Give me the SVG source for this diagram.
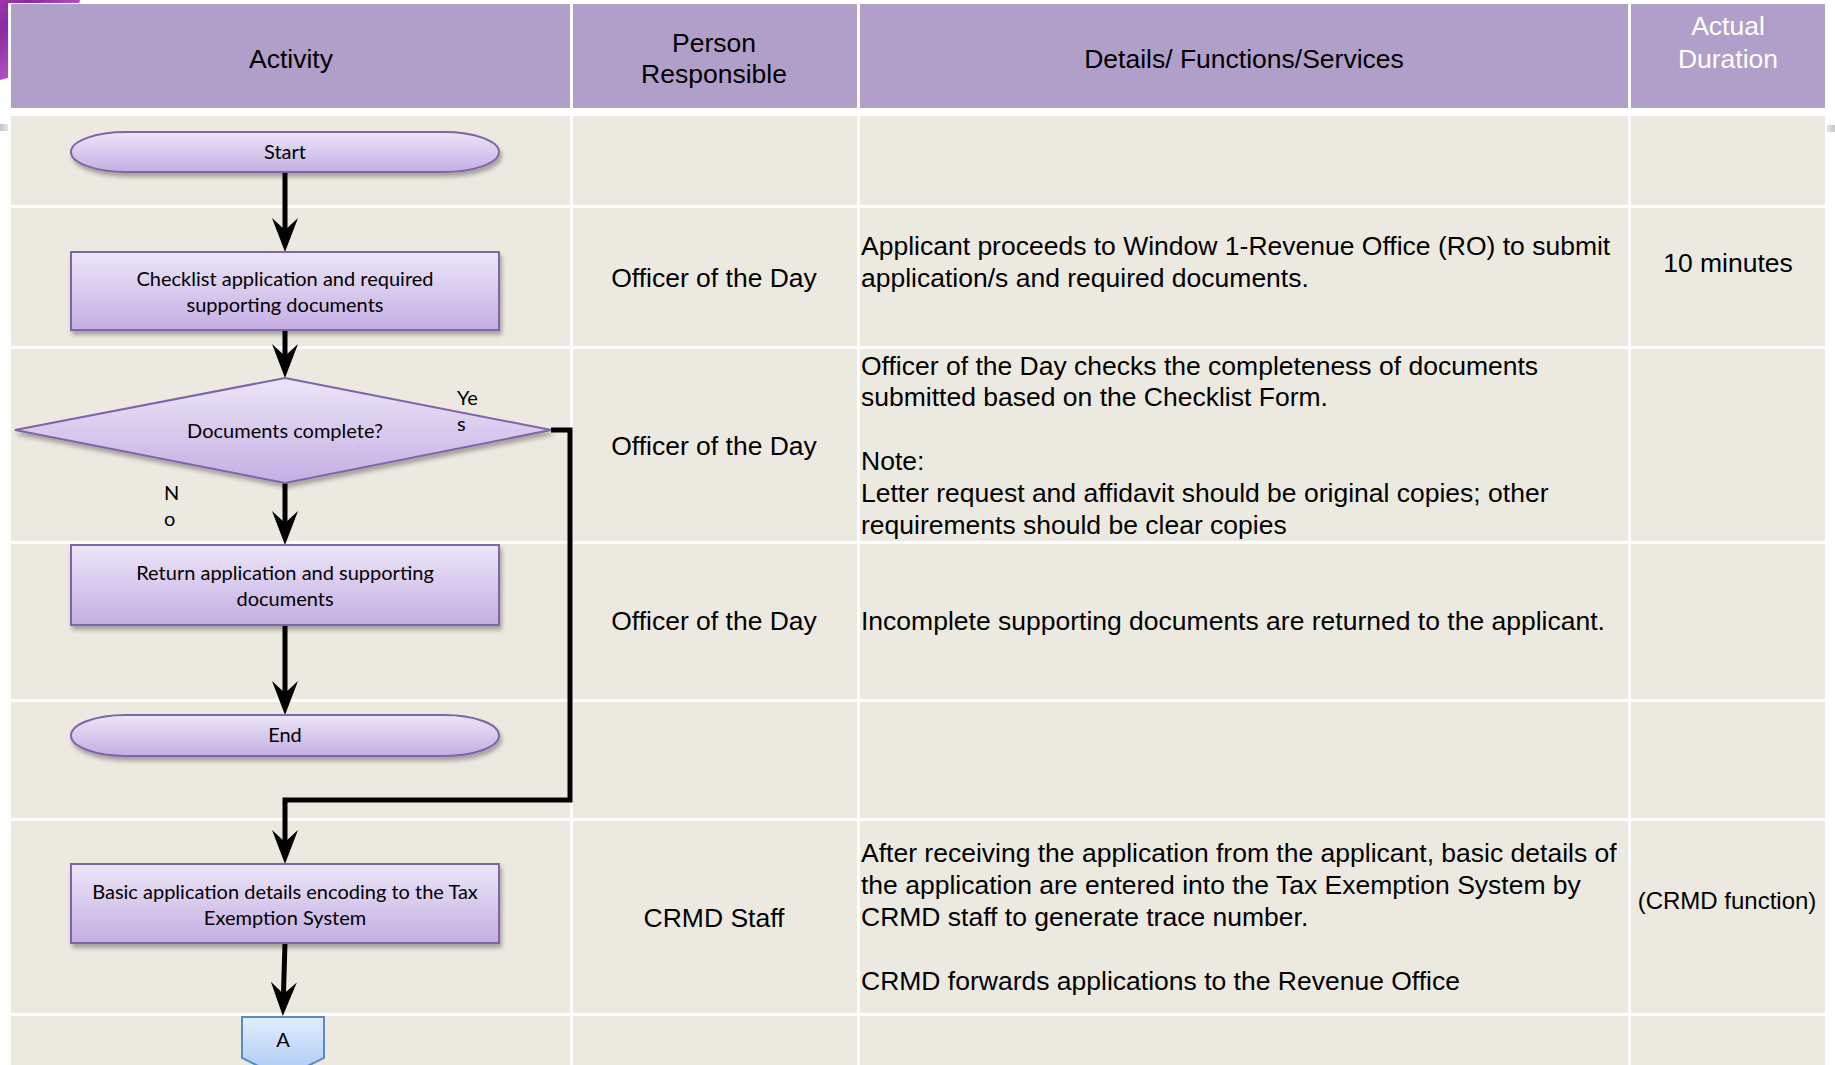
<svg xmlns="http://www.w3.org/2000/svg" width="1835" height="1065" viewBox="0 0 1835 1065">
  <style>
    .hdr { fill: #B09FC8; }
    .cell { fill: #ECEAE0; }
    .th { font-family: "Liberation Sans", Arial, sans-serif; font-size: 26.5px; fill: #000; text-anchor: middle; }
    .th.light { fill: #FFFFFF; }
    .td { font-family: "Liberation Sans", Arial, sans-serif; font-size: 26.5px; fill: #000; }
    .mid { text-anchor: middle; }
    .fc { font-family: Lato, "Liberation Sans", sans-serif; font-size: 20px; fill: #000; text-anchor: middle; }
    .lbl { font-family: Lato, "Liberation Sans", sans-serif; font-size: 20px; fill: #000; }
    .shape { fill: url(#purpleFill); stroke: #8064A8; stroke-width: 2; filter: url(#shadow); }
    .conn { fill: none; stroke: #000; stroke-width: 5; marker-end: url(#arrow); }
  </style>
  <defs>
    <linearGradient id="purpleFill" x1="0" y1="0" x2="0" y2="1">
      <stop offset="0" stop-color="#ECE6F8"/>
      <stop offset="1" stop-color="#C4AEE3"/>
    </linearGradient>
    <linearGradient id="blueFill" x1="0" y1="0" x2="0" y2="1">
      <stop offset="0" stop-color="#E2EDFD"/>
      <stop offset="1" stop-color="#A8C8F4"/>
    </linearGradient>
    <radialGradient id="orb" cx="0.3" cy="0.3" r="0.8">
      <stop offset="0" stop-color="#C86AD6"/>
      <stop offset="0.7" stop-color="#8E2AA3"/>
      <stop offset="1" stop-color="#B45CC6"/>
    </radialGradient>
    <linearGradient id="greyBarL" x1="0" y1="0" x2="1" y2="0">
      <stop offset="0" stop-color="#C4C4C4"/>
      <stop offset="1" stop-color="#E4E4E4"/>
    </linearGradient>
    <linearGradient id="greyBarR" x1="0" y1="0" x2="1" y2="0">
      <stop offset="0" stop-color="#E2E2E2"/>
      <stop offset="1" stop-color="#C8C8C8"/>
    </linearGradient>
    <filter id="shadow" x="-10%" y="-20%" width="120%" height="150%">
      <feDropShadow dx="2" dy="4" stdDeviation="2" flood-color="#000" flood-opacity="0.3"/>
    </filter>
    <marker id="arrow" viewBox="0 -13 34 26" refX="14" refY="0" markerWidth="34" markerHeight="26" markerUnits="userSpaceOnUse" orient="auto">
      <path d="M0,-13 L34,0 L0,13 L12,0 Z" fill="#000"/>
    </marker>
  </defs>

  <!-- page background and slide decorations -->
  <rect x="0" y="0" width="1835" height="1065" fill="#FFFFFF"/>
  <circle cx="-25" cy="-25" r="108" fill="url(#orb)"/>
  <rect x="0" y="124" width="8" height="7" fill="url(#greyBarL)"/>
  <rect x="1827" y="125" width="8" height="7" fill="url(#greyBarR)"/>
  <rect x="8" y="3" width="1819" height="1062" fill="#FFFFFF"/>

  <!-- table: header row -->
  <g id="table-header">
    <rect class="hdr" x="11" y="4" width="559" height="104"/>
    <rect class="hdr" x="573" y="4" width="284" height="104"/>
    <rect class="hdr" x="860" y="4" width="768" height="104"/>
    <rect class="hdr" x="1631" y="4" width="194" height="104"/>
    <text class="th" x="291" y="68">Activity</text>
    <text class="th" x="714" y="52">Person</text>
    <text class="th" x="714" y="83">Responsible</text>
    <text class="th" x="1244" y="68">Details/ Functions/Services</text>
    <text class="th light" x="1728" y="35">Actual</text>
    <text class="th light" x="1728" y="68">Duration</text>
  </g>

  <!-- table: body cells -->
  <g id="table-body">
    <g>
      <rect class="cell" x="11" y="116" width="559" height="89"/>
      <rect class="cell" x="573" y="116" width="284" height="89"/>
      <rect class="cell" x="860" y="116" width="768" height="89"/>
      <rect class="cell" x="1631" y="116" width="194" height="89"/>
    </g>
    <g>
      <rect class="cell" x="11" y="208" width="559" height="138"/>
      <rect class="cell" x="573" y="208" width="284" height="138"/>
      <rect class="cell" x="860" y="208" width="768" height="138"/>
      <rect class="cell" x="1631" y="208" width="194" height="138"/>
    </g>
    <g>
      <rect class="cell" x="11" y="349" width="559" height="192"/>
      <rect class="cell" x="573" y="349" width="284" height="192"/>
      <rect class="cell" x="860" y="349" width="768" height="192"/>
      <rect class="cell" x="1631" y="349" width="194" height="192"/>
    </g>
    <g>
      <rect class="cell" x="11" y="544" width="559" height="155"/>
      <rect class="cell" x="573" y="544" width="284" height="155"/>
      <rect class="cell" x="860" y="544" width="768" height="155"/>
      <rect class="cell" x="1631" y="544" width="194" height="155"/>
    </g>
    <g>
      <rect class="cell" x="11" y="702" width="559" height="116"/>
      <rect class="cell" x="573" y="702" width="284" height="116"/>
      <rect class="cell" x="860" y="702" width="768" height="116"/>
      <rect class="cell" x="1631" y="702" width="194" height="116"/>
    </g>
    <g>
      <rect class="cell" x="11" y="821" width="559" height="192"/>
      <rect class="cell" x="573" y="821" width="284" height="192"/>
      <rect class="cell" x="860" y="821" width="768" height="192"/>
      <rect class="cell" x="1631" y="821" width="194" height="192"/>
    </g>
    <g>
      <rect class="cell" x="11" y="1016" width="559" height="49"/>
      <rect class="cell" x="573" y="1016" width="284" height="49"/>
      <rect class="cell" x="860" y="1016" width="768" height="49"/>
      <rect class="cell" x="1631" y="1016" width="194" height="49"/>
    </g>
  </g>

  <!-- table: row texts -->
  <g id="row-checklist">
    <text class="td mid" x="714" y="287">Officer of the Day</text>
    <text class="td" x="861" y="255">Applicant proceeds to Window 1-Revenue Office (RO) to submit</text>
    <text class="td" x="861" y="287">application/s and required documents.</text>
    <text class="td mid" x="1728" y="272">10 minutes</text>
  </g>
  <g id="row-decision">
    <text class="td mid" x="714" y="455">Officer of the Day</text>
    <text class="td" x="861" y="375">Officer of the Day checks the completeness of documents</text>
    <text class="td" x="861" y="406">submitted based on the Checklist Form.</text>
    <text class="td" x="861" y="470">Note:</text>
    <text class="td" x="861" y="502">Letter request and affidavit should be original copies; other</text>
    <text class="td" x="861" y="534">requirements should be clear copies</text>
  </g>
  <g id="row-return">
    <text class="td mid" x="714" y="630">Officer of the Day</text>
    <text class="td" x="861" y="630">Incomplete supporting documents are returned to the applicant.</text>
  </g>
  <g id="row-encoding">
    <text class="td mid" x="714" y="927">CRMD Staff</text>
    <text class="td" x="861" y="862">After receiving the application from the applicant, basic details of</text>
    <text class="td" x="861" y="894">the application are entered into the Tax Exemption System by</text>
    <text class="td" x="861" y="926">CRMD staff to generate trace number.</text>
    <text class="td" x="861" y="990">CRMD forwards applications to the Revenue Office</text>
    <text class="td mid" x="1727" y="909" style="font-size:24px">(CRMD function)</text>
  </g>

  <!-- connectors -->
  <g id="connectors">
    <path class="conn" d="M285,172 V232"/>
    <path class="conn" d="M285,330 V358"/>
    <path class="conn" d="M285,483 V525"/>
    <path class="conn" d="M285,625 V695"/>
    <path class="conn" d="M551,430 H570 V800 H285 V844"/>
    <path class="conn" d="M285,943 L283.4,996"/>
  </g>

  <!-- flowchart nodes -->
  <g id="node-start">
    <rect class="shape" x="71" y="132" width="428" height="40" rx="55" ry="20"/>
    <text class="fc" x="285" y="159">Start</text>
  </g>
  <g id="node-checklist">
    <rect class="shape" x="71" y="252" width="428" height="78"/>
    <text class="fc" x="285" y="286">Checklist application and required</text>
    <text class="fc" x="285" y="312">supporting documents</text>
  </g>
  <g id="node-decision">
    <polygon class="shape" points="285,378 551,430 285,483 15,430"/>
    <text class="fc" x="285" y="438">Documents complete?</text>
  </g>
  <g id="node-return">
    <rect class="shape" x="71" y="545" width="428" height="80"/>
    <text class="fc" x="285" y="580">Return application and supporting</text>
    <text class="fc" x="285" y="606">documents</text>
  </g>
  <g id="node-end">
    <rect class="shape" x="71" y="715" width="428" height="41" rx="55" ry="20.5"/>
    <text class="fc" x="285" y="742">End</text>
  </g>
  <g id="node-encoding">
    <rect class="shape" x="71" y="864" width="428" height="79"/>
    <text class="fc" x="285" y="899">Basic application details encoding to the Tax</text>
    <text class="fc" x="285" y="925">Exemption System</text>
  </g>
  <g id="node-offpage-a">
    <path d="M242,1017 H324 V1058 L283,1078 L242,1058 Z" fill="url(#blueFill)" stroke="#5A89C5" stroke-width="2"/>
    <text class="fc" x="283" y="1047">A</text>
  </g>

  <!-- decision branch labels -->
  <g id="branch-labels">
    <text class="lbl" x="457" y="405">Ye</text>
    <text class="lbl" x="457" y="431">s</text>
    <text class="lbl" x="164" y="500">N</text>
    <text class="lbl" x="164" y="526">o</text>
  </g>
</svg>
